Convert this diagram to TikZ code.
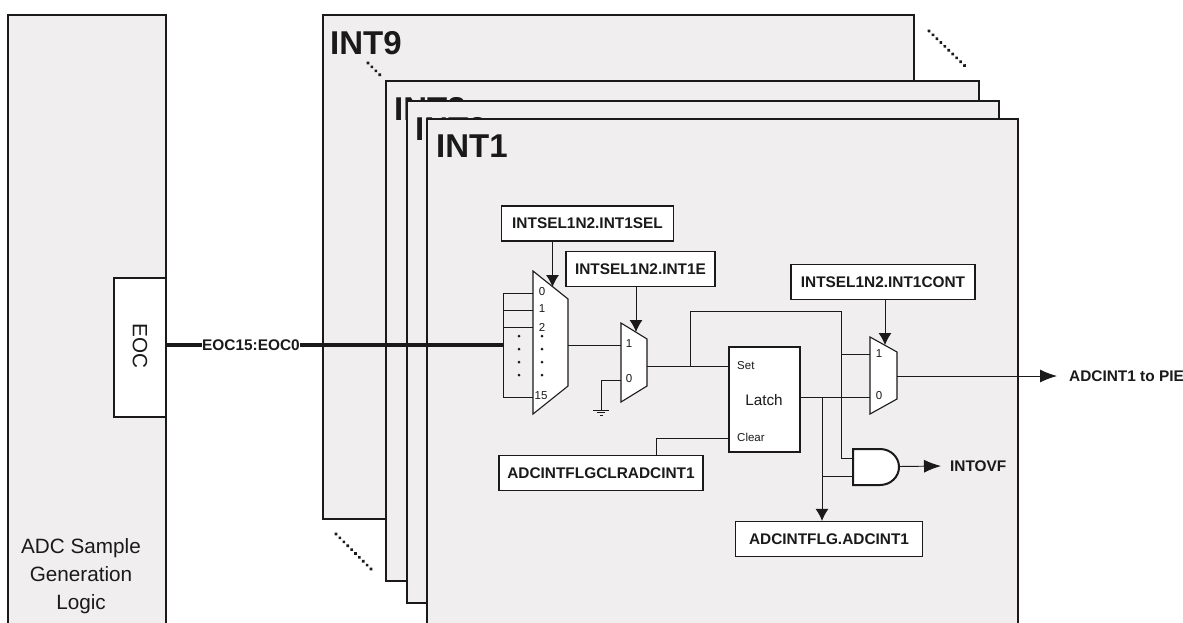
\documentclass[tikz,border=0pt]{standalone}
\usepackage{fontspec}
\setmainfont{Liberation Sans}
\usetikzlibrary{arrows.meta}
\definecolor{panelfill}{HTML}{F0EEEF}
\definecolor{ink}{HTML}{1A1A1A}
\tikzset{
  panel/.style={draw=ink,line width=1.9pt,fill=panelfill},
  wire/.style={draw=ink,line width=0.95pt},
  arrowwire/.style={wire,-{Latex[length=12pt,width=13pt]}},
  bigarrow/.style={wire,-{Latex[length=17pt,width=13pt]}},
  regbox/.style={draw=ink,line width=1.2pt,fill=white,inner sep=0pt,font=\fontsize{15.4}{18}\selectfont\bfseries,text=ink},
  muxshape/.style={draw=ink,line width=1.1pt,fill=white},
  pin/.style={font=\fontsize{11.5}{13}\selectfont,text=ink,inner sep=0pt},
  title/.style={font=\fontsize{33}{37}\selectfont\bfseries,text=ink,inner sep=0pt,anchor=north west},
  plainlabel/.style={font=\fontsize{15.4}{18}\selectfont\bfseries,text=ink,inner sep=0pt},
  stackdots/.style={draw=ink,line width=3.6pt,dash pattern=on 0.1pt off 5.4pt,line cap=round},
  muxdot/.style={circle,fill=ink,inner sep=0pt,minimum size=3pt},
}
\begin{document}
\begin{tikzpicture}[x=1pt,y=-1pt]
\useasboundingbox (0,0) rectangle (1183,622);
\clip (0,0) rectangle (1183,622);
\fill[white] (0,0) rectangle (1183,622);
% left panel
\draw[panel] (8,15) rectangle (166,640);
\node[inner sep=0pt,align=center,text=ink,font=\fontsize{20.7}{28}\selectfont] (gen) at (81,576) {ADC Sample\\Generation\\Logic};
\node[draw=ink,line width=1.1pt,fill=white,minimum width=52pt,minimum height=139pt,inner sep=0pt] (eoc) at (140,347.5) {};
\node[rotate=-90,inner sep=0pt,text=ink,font=\fontsize{20.7}{24}\selectfont] (eoct) at (140,346) {EOC};
\draw[draw=ink,line width=1.9pt] (166,270) -- (166,430);
% stacked panels
\draw[panel] (323,15) rectangle (914,519);
\node[title] (t9) at (330,31) {INT9};
\draw[panel] (386,81) rectangle (979,581);
\node[title] (t8) at (394,97) {INT8};
\draw[panel] (407,101) rectangle (999,603);
\node[title] (t2) at (415,117) {INT2};
\draw[panel] (427,119) rectangle (1018,640);
\node[title] (t1) at (436,135) {INT1};
% stack dots
\coordinate (d1a) at (368,63); \coordinate (d1b) at (381,76);
\coordinate (d2a) at (929,31); \coordinate (d2b) at (966,67);
\coordinate (d3a) at (336,534); \coordinate (d3b) at (372,570);
\draw[stackdots] (d1a) -- (d1b);
\draw[stackdots] (d2a) -- (d2b);
\draw[stackdots] (d3a) -- (d3b);
% register boxes
\node[regbox,minimum width=171.5pt,minimum height=35pt] (sel) at (587.5,223.5) {INTSEL1N2.INT1SEL};
\node[regbox,minimum width=149pt,minimum height=35pt] (ena) at (640.5,269) {INTSEL1N2.INT1E};
\node[regbox,minimum width=184pt,minimum height=35pt] (cont) at (883,282) {INTSEL1N2.INT1CONT};
\node[regbox,minimum width=204pt,minimum height=35pt] (clr) at (601,473) {ADCINTFLGCLRADCINT1};
\node[regbox,minimum width=187pt,minimum height=35pt] (flg) at (829,539) {ADCINTFLG.ADCINT1};
% latch
\node[draw=ink,line width=1.1pt,fill=white,minimum width=71pt,minimum height=105pt,inner sep=0pt] (latch) at (764.5,399.5) {};
\node[inner sep=0pt,text=ink,font=\fontsize{15.3}{17}\selectfont] (latcht) at (764,400) {Latch};
\node[pin,anchor=west] (lset) at (737,366) {Set};
\node[pin,anchor=west] (lclr) at (737,437) {Clear};
\coordinate (lsetw) at (729,366);
\coordinate (lclrw) at (729,438);
\coordinate (lout) at (800,397);
% mux shapes
\coordinate (m1top) at (552.5,287);
\coordinate (m2top) at (636,332);
\coordinate (m3top) at (885,345);
\draw[muxshape] (533,271) -- (568,299) -- (568,386) -- (533,414) -- cycle;
\draw[muxshape] (621,323) -- (647,339) -- (647,386) -- (621,402) -- cycle;
\draw[muxshape] (870,337) -- (897,352) -- (897,399) -- (870,414) -- cycle;
% mux1 pins
\node[pin] (p0) at (542,292) {0};
\node[pin] (p1) at (542,309) {1};
\node[pin] (p2) at (542,327) {2};
\node[pin] (p15) at (541,396) {15};
\foreach \n/\y in {a/336,b/349,c/362,d/375}{
  \node[muxdot] (l\n) at (519,\y) {};
  \node[muxdot] (r\n) at (542,\y) {};
}
% mux2, mux3 pins
\node[pin] (q1) at (629,344) {1};
\node[pin] (q0) at (629,379) {0};
\node[pin] (s1) at (879,354) {1};
\node[pin] (s0) at (879,396) {0};
% bus
\node[plainlabel] (bus) at (251,345) {EOC15:EOC0};
\coordinate (eocout) at (165,345);
\coordinate (busend) at (503,345);
\draw[ink,line width=4.5pt] (eocout) -- (bus.west);
\draw[ink,line width=4.5pt] (bus.east) -- (busend);
\draw[wire] (533,293) -- (503,293) -- (503,397) -- (533,397);
\draw[wire] (503,310) -- (533,310);
\draw[wire] (503,327) -- (533,327);
% control arrows
\draw[arrowwire] (sel.south -| m1top) -- (m1top);
\draw[arrowwire] (ena.south -| m2top) -- (m2top);
\draw[arrowwire] (cont.south -| m3top) -- (m3top);
% mux1 to mux2
\draw[wire] (568,345) -- (621,345);
% ground
\coordinate (gnd) at (601,410);
\draw[wire] (621,380) -- (601,380) -- (gnd);
\draw[wire] (593,410) -- (609,410);
\draw[wire] (597,412.5) -- (605,412.5);
\draw[wire] (600,415) -- (603,415);
% mux2 to latch + feedback
\draw[wire] (647,366) -- (lsetw);
\draw[wire] (690,366) -- (690,311) -- (841,311) -- (841,458) -- (853,458);
\draw[wire] (841,354) -- (870,354);
\draw[wire] (lclrw) -- (656,438) -- (656,455.5);
% latch out
\draw[wire] (lout) -- (870,397);
\draw[arrowwire] (822,397) -- (flg.north -| 822,397);
\draw[wire] (822,476) -- (853,476);
% and gate
\coordinate (andout) at (899,466.5);
\draw[draw=ink,line width=2pt,fill=white] (853,449) -- (880,449) arc[start angle=-90,end angle=90,radius=18pt,x radius=19pt,y radius=-18pt] -- (853,485) -- cycle;
% outputs
\node[plainlabel,anchor=west] (ovf) at (950,466) {INTOVF};
\node[plainlabel,anchor=west] (pie) at (1069,376) {ADCINT1 to PIE};
\draw[bigarrow] (andout) -- (ovf.west -| 941,466);
\draw[bigarrow] (897,376) -- (1057,376);
\end{tikzpicture}
\end{document}
